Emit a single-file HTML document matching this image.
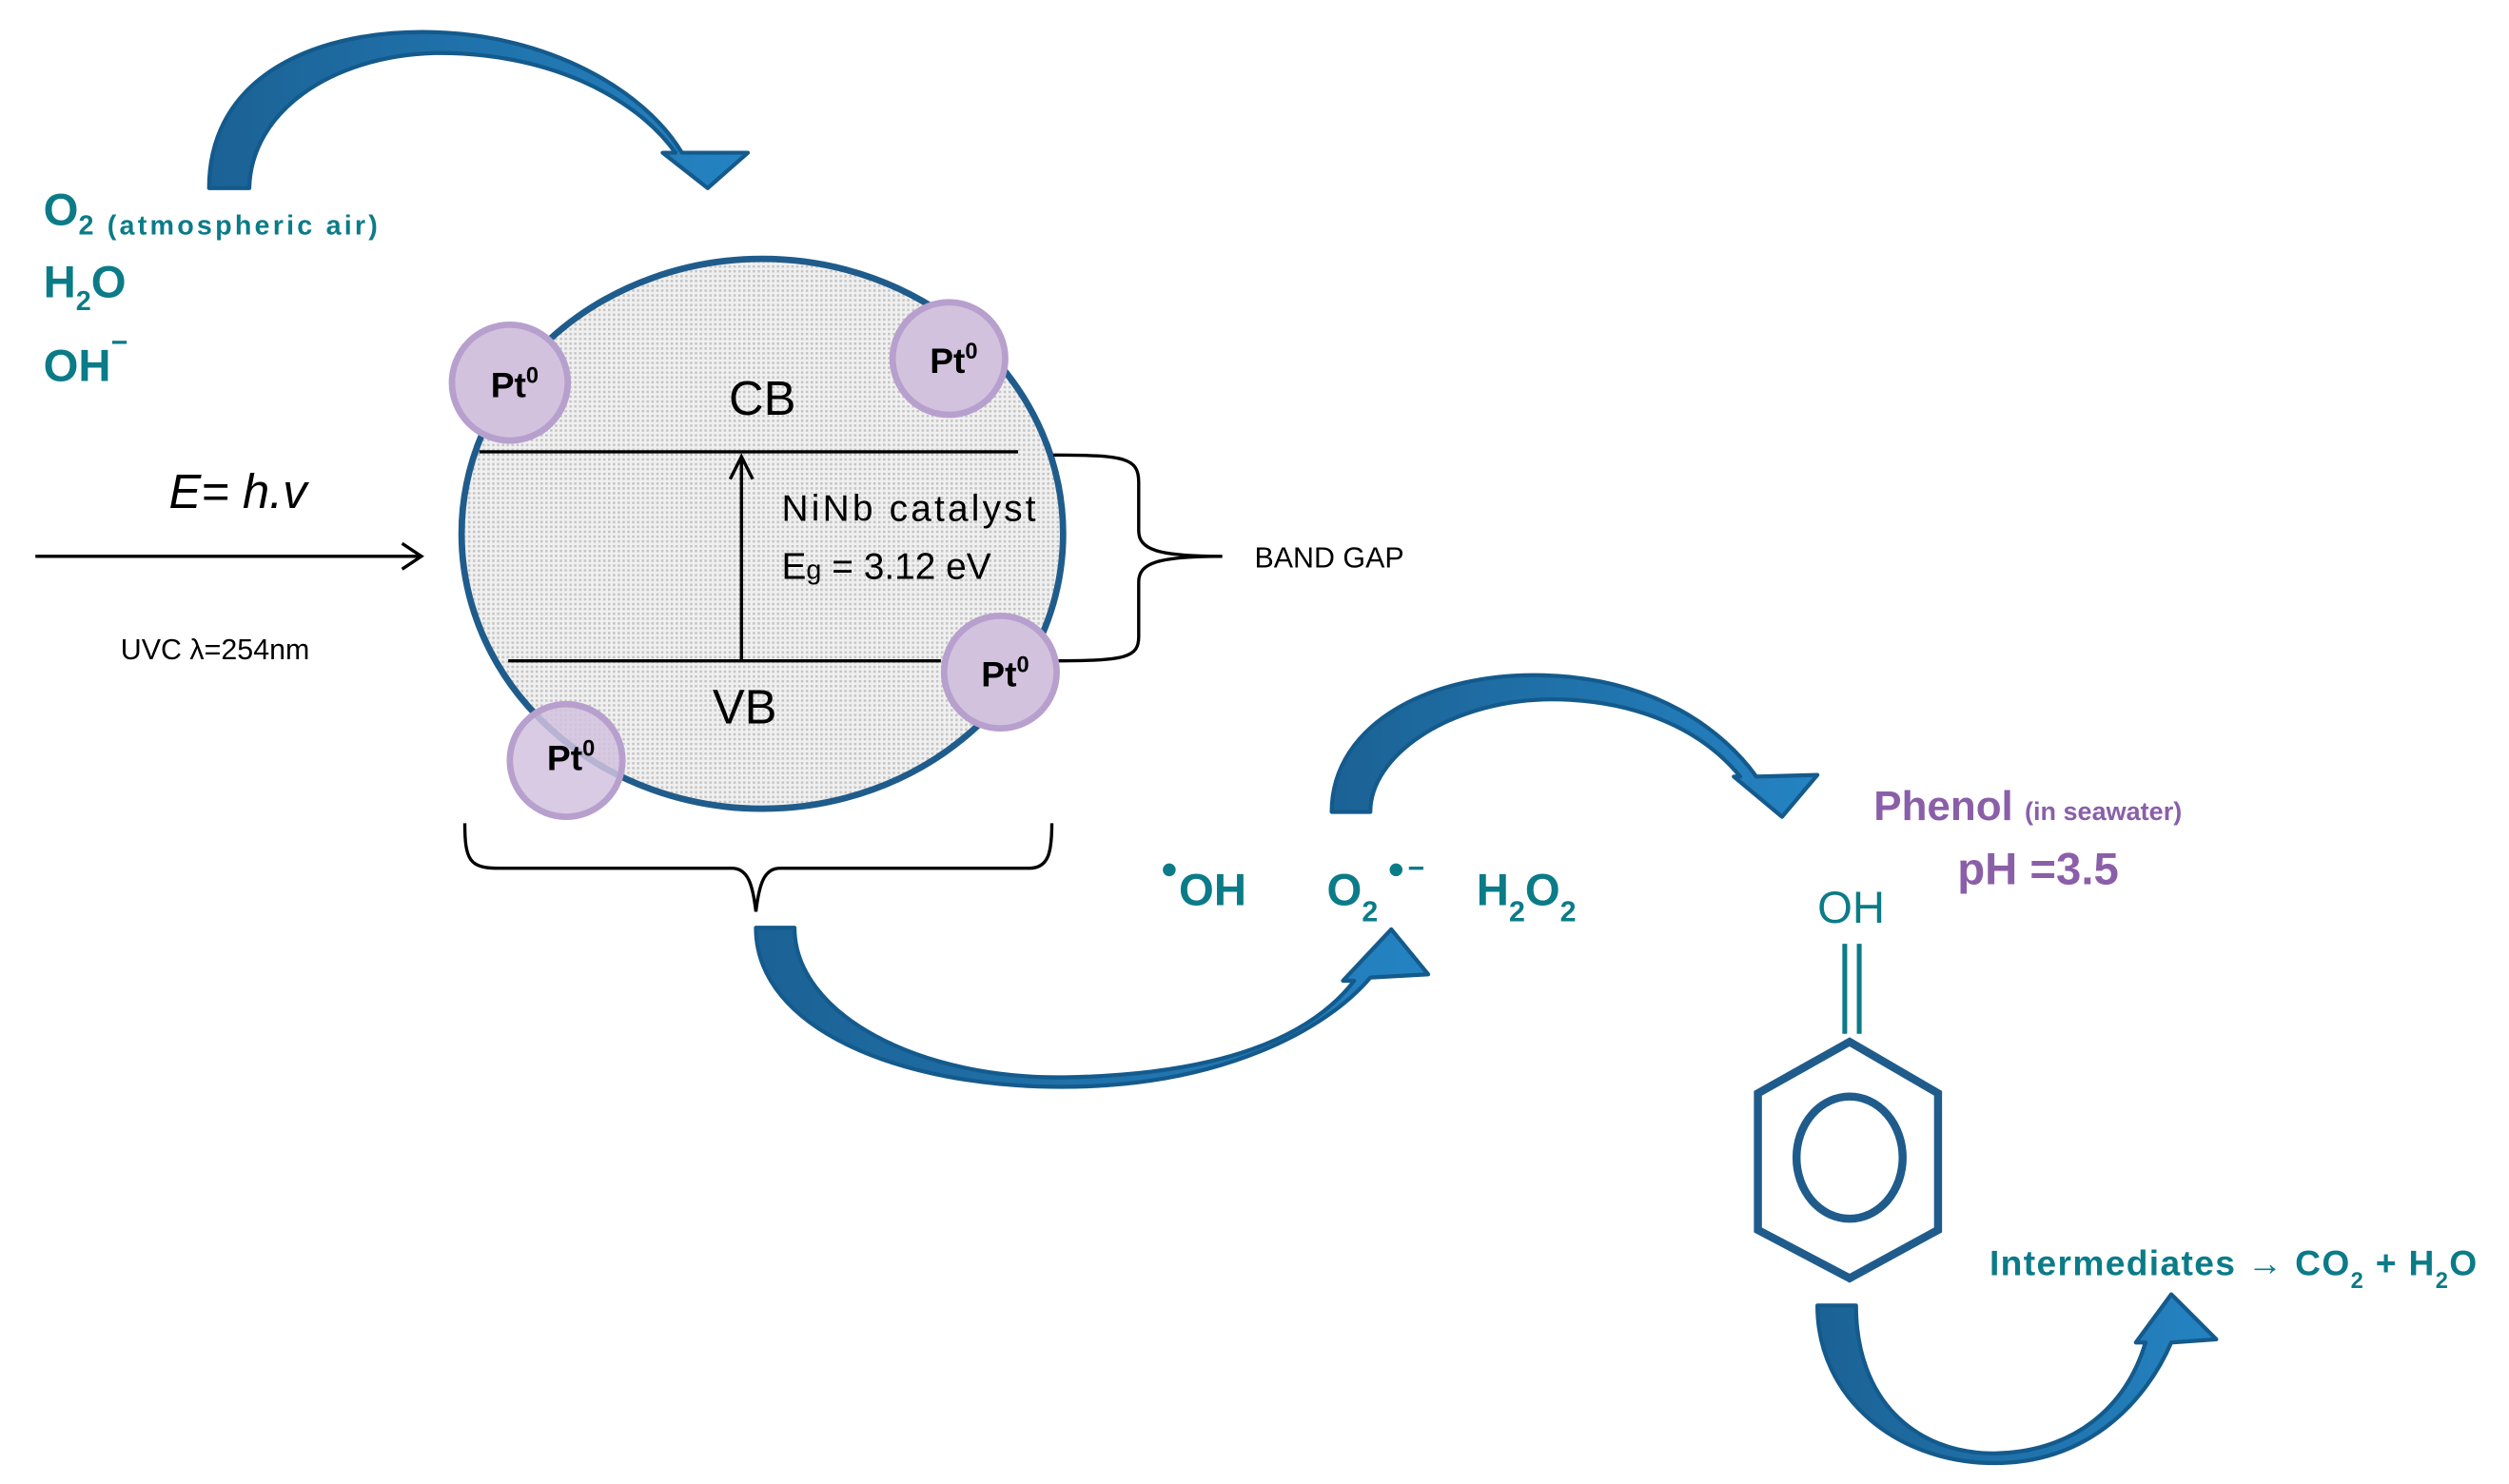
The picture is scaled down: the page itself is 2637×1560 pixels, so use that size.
<!DOCTYPE html>
<html><head><meta charset="utf-8"><style>
html,body{margin:0;padding:0;background:#fff;}
svg{display:block;}
text{font-family:"Liberation Sans",sans-serif;}
</style></head><body>
<svg width="2637" height="1560" viewBox="0 0 1560 923" preserveAspectRatio="none" xmlns="http://www.w3.org/2000/svg">
<defs>
<pattern id="dots" width="3" height="3" patternUnits="userSpaceOnUse">
<rect width="3" height="3" fill="#f0f0f0"/><rect width="1.5" height="1.5" fill="#c4c4c4"/>
</pattern>
<linearGradient id="ag" x1="0" y1="0" x2="1" y2="0"><stop offset="0" stop-color="#1b6295"/><stop offset="1" stop-color="#2583c2"/></linearGradient>
</defs>
<g fill="url(#ag)" stroke="#145a8c" stroke-width="2.5" stroke-linejoin="round">
<path d="M130,117 C130,45 200,18 270,20 C340,22 400,55 424,95 L465,95 L440,117 L412,95 L420,95 C395,60 340,32 270,33 C205,35 156,70 155,117 Z"/>
<path d="M470,577 C470,640 560,676 660,676 C760,676 825,640 852,608 L888,606 L865,578 L835,610 L842,610 C815,645 760,668 665,670 C570,672 494,630 494,577 Z"/>
<path d="M828,505 C828,450 890,418 960,420 C1030,422 1072,455 1092,483 L1130,482 L1108,508 L1078,483 L1082,483 C1055,450 1010,434 960,435 C900,437 852,470 852,505 Z"/>
<path d="M1130,812 C1130,870 1180,910 1240,910 C1300,910 1335,870 1350,835 L1378,833 L1350,805 L1328,835 L1334,835 C1322,875 1290,903 1240,904 C1190,904 1154,870 1154,812 Z"/>
</g>
<g fill="#0b7b88" font-weight="bold">
<text x="27" y="140" font-size="28">O<tspan font-size="17" dy="6" textLength="186">2 (atmospheric air)</tspan></text>
<text x="27" y="185" font-size="28">H<tspan font-size="17" dy="8">2</tspan><tspan dy="-8">O</tspan></text>
<text x="27" y="237" font-size="28">OH<tspan font-size="18" dy="-18">−</tspan></text>
</g>
<ellipse cx="474" cy="332" rx="187" ry="171" fill="url(#dots)" stroke="#1f5c8c" stroke-width="4"/>
<g stroke="#000" stroke-width="2" fill="none">
<line x1="298" y1="281" x2="633" y2="281"/>
<line x1="316" y1="411" x2="585" y2="411"/>
<line x1="461" y1="411" x2="461" y2="284"/>
<polyline points="454,298 461,284 468,298"/>
<line x1="22" y1="346" x2="262" y2="346"/>
<polyline points="250,338 262,346 250,354"/>
<path d="M655,283 C700,283 708,285 708,300 L708,330 C708,342 720,346 760,346 C720,346 708,350 708,362 L708,396 C708,409 700,411 655,411"/>
<path d="M289,512 C289,535 292,540 310,540 L455,540 C465,540 468,550 470,567 C472,550 475,540 485,540 L640,540 C652,540 654,530 654,512"/>
</g>
<g font-family="Liberation Sans" fill="#000">
<text x="474" y="258" font-size="30" text-anchor="middle">CB</text>
<text x="463" y="450" font-size="30" text-anchor="middle">VB</text>
<text x="486" y="324" font-size="23" textLength="158">NiNb catalyst</text>
<text x="486" y="360" font-size="23">E<tspan font-size="17">g</tspan> = 3.12  eV</text>
<text x="780" y="353" font-size="18">BAND GAP</text>
<text x="105" y="316" font-size="30" font-style="italic">E= h.v</text>
<text x="75" y="410" font-size="18">UVC λ=254nm</text>
</g>
<g fill="#d2c2de" stroke="#b7a0cd" stroke-width="4">
<circle cx="317" cy="238" r="36"/><circle cx="590" cy="223" r="35"/><circle cx="622" cy="418" r="35"/><circle cx="352" cy="473" r="35" fill-opacity="0.85"/>
</g>
<g font-weight="bold" font-size="22" fill="#000" text-anchor="middle">
<text x="320" y="247">Pt<tspan font-size="14" dy="-9">0</tspan></text>
<text x="593" y="232">Pt<tspan font-size="14" dy="-9">0</tspan></text>
<text x="625" y="427">Pt<tspan font-size="14" dy="-9">0</tspan></text>
<text x="355" y="479">Pt<tspan font-size="14" dy="-9">0</tspan></text>
</g>
<g fill="#0b7b88" font-weight="bold" font-size="28">
<circle cx="727" cy="541" r="4"/>
<text x="733" y="563">OH</text>
<text x="825" y="563">O<tspan font-size="18" dy="10">2</tspan></text>
<circle cx="868" cy="541" r="4"/>
<line x1="876" y1="540" x2="885" y2="540" stroke="#0b7b88" stroke-width="2"/>
<text x="918" y="563">H<tspan font-size="18" dy="10">2</tspan><tspan dy="-10">O</tspan><tspan font-size="18" dy="10">2</tspan></text>
<text x="1237" y="793" font-size="22" textLength="303">Intermediates <tspan font-weight="normal">→</tspan> CO<tspan font-size="14" dy="8">2</tspan><tspan dy="-8"> + H</tspan><tspan font-size="14" dy="8">2</tspan><tspan dy="-8">O</tspan></text>
</g>
<text x="1130" y="574" font-size="28" fill="#0b7b88">OH</text>
<g fill="#8a5fa8" font-weight="bold">
<text x="1165" y="510" font-size="26">Phenol <tspan font-size="16">(in seawater)</tspan></text>
<text x="1217" y="550" font-size="28">pH =3.5</text>
</g>
<g stroke="#1f5c8c" stroke-width="5" fill="none">
<line x1="1147" y1="587" x2="1147" y2="643" stroke="#0b7b88" stroke-width="3"/>
<line x1="1156" y1="587" x2="1156" y2="643" stroke="#0b7b88" stroke-width="3"/>
<polygon points="1150,648 1205,680 1205,765 1150,795 1093,765 1093,680"/>
<ellipse cx="1150" cy="720" rx="33" ry="38"/>
</g>
</svg>
</body></html>
